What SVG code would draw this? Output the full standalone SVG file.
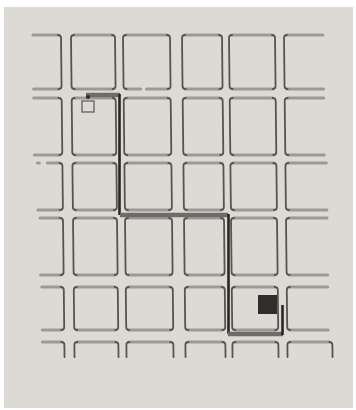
<svg xmlns="http://www.w3.org/2000/svg" width="356" height="410" viewBox="0 0 356 410">
<style>
.h{fill:none;stroke:#9c9a96;stroke-width:3;stroke-linecap:round}
.v{fill:none;stroke:#55544f;stroke-width:1.8;stroke-linecap:round}
.rh{fill:none;stroke:#6e6c69;stroke-width:4.5;stroke-linecap:butt}
.rv{fill:none;stroke:#262624;stroke-width:2.6}
</style>
<rect x="0" y="0" width="356" height="410" fill="#ffffff"/>
<rect x="4" y="7" width="349" height="401" fill="#dddad5"/>
<g id="grid" transform="matrix(1,0,0.011,1,-0.4,0)">
<g id="row0">
<path class="h" d="M33,35H58M33,89H58M74,35H112M74,89H112M126,35H167M126,89H140M146,89H167M185,35H219M185,89H219M232,35H272M232,89H272M287,35H323M287,89H323"/>
<path class="v" d="M58,35Q61,35 61,38V86Q61,89 58,89M74,35Q71,35 71,38V86Q71,89 74,89M112,35Q115,35 115,38V86Q115,89 112,89M126,35Q123,35 123,38V86Q123,89 126,89M167,35Q170,35 170,38V86Q170,89 167,89M185,35Q182,35 182,38V86Q182,89 185,89M219,35Q222,35 222,38V86Q222,89 219,89M232,35Q229,35 229,38V86Q229,89 232,89M272,35Q275,35 275,38V86Q275,89 272,89M287,35Q284,35 284,38V86Q284,89 287,89"/>
</g>
<g id="row1">
<path class="h" d="M33,98H58M33,155H58M74,98H112M74,155H112M126,98H167M126,155H167M185,98H219M185,155H219M232,98H272M232,155H272M287,98H323M287,155H323"/>
<path class="v" d="M58,98Q61,98 61,101V152Q61,155 58,155M74,98Q71,98 71,101V152Q71,155 74,155M112,98Q115,98 115,101V152Q115,155 112,155M126,98Q123,98 123,101V152Q123,155 126,155M167,98Q170,98 170,101V152Q170,155 167,155M185,98Q182,98 182,101V152Q182,155 185,155M219,98Q222,98 222,101V152Q222,155 219,155M232,98Q229,98 229,101V152Q229,155 232,155M272,98Q275,98 275,101V152Q275,155 272,155M287,98Q284,98 284,101V152Q284,155 287,155"/>
</g>
<g id="row2">
<path class="h" d="M36,163H38M46,163H58M36,210H58M74,163H112M74,210H112M126,163H167M126,210H167M185,163H219M185,210H219M232,163H272M232,210H272M287,163H325M287,210H325"/>
<path class="v" d="M58,163Q61,163 61,166V207Q61,210 58,210M74,163Q71,163 71,166V207Q71,210 74,210M112,163Q115,163 115,166V207Q115,210 112,210M126,163Q123,163 123,166V207Q123,210 126,210M167,163Q170,163 170,166V207Q170,210 167,210M185,163Q182,163 182,166V207Q182,210 185,210M219,163Q222,163 222,166V207Q222,210 219,210M232,163Q229,163 229,166V207Q229,210 232,210M272,163Q275,163 275,166V207Q275,210 272,210M287,163Q284,163 284,166V207Q284,210 287,210"/>
</g>
<g id="row3">
<path class="h" d="M38,218H58M38,275H58M74,218H112M74,275H112M126,218H167M126,275H167M185,218H219M185,275H219M232,218H272M232,275H272M287,218H325M287,275H325"/>
<path class="v" d="M58,218Q61,218 61,221V272Q61,275 58,275M74,218Q71,218 71,221V272Q71,275 74,275M112,218Q115,218 115,221V272Q115,275 112,275M126,218Q123,218 123,221V272Q123,275 126,275M167,218Q170,218 170,221V272Q170,275 167,275M185,218Q182,218 182,221V272Q182,275 185,275M219,218Q222,218 222,221V272Q222,275 219,275M232,218Q229,218 229,221V272Q229,275 232,275M272,218Q275,218 275,221V272Q275,275 272,275M287,218Q284,218 284,221V272Q284,275 287,275"/>
</g>
<g id="row4">
<path class="h" d="M39,287H58M39,330H58M74,287H112M74,330H112M126,287H167M126,330H167M185,287H219M185,330H219M232,287H272M232,330H272M287,287H325M287,330H325"/>
<path class="v" d="M58,287Q61,287 61,290V327Q61,330 58,330M74,287Q71,287 71,290V327Q71,330 74,330M112,287Q115,287 115,290V327Q115,330 112,330M126,287Q123,287 123,290V327Q123,330 126,330M167,287Q170,287 170,290V327Q170,330 167,330M185,287Q182,287 182,290V327Q182,330 185,330M219,287Q222,287 222,290V327Q222,330 219,330M232,287Q229,287 229,290V327Q229,330 232,330M272,287Q275,287 275,290V327Q275,330 272,330M287,287Q284,287 284,290V327Q284,330 287,330"/>
</g>
<g id="row5">
<path class="h" d="M39,342H58M74,342H112M126,342H167M185,342H219M232,342H272M287,342H326"/>
<path class="v" d="M58,342Q61,342 61,345V357M74,342Q71,342 71,345V357M112,342Q115,342 115,345V357M126,342Q123,342 123,345V357M167,342Q170,342 170,345V357M185,342Q182,342 182,345V357M219,342Q222,342 222,345V357M232,342Q229,342 229,345V357M272,342Q275,342 275,345V357M287,342Q284,342 284,345V357M326,342Q329,342 329,345V357"/>
</g>
</g>
<g id="route">
<path class="rh" d="M86,95H120"/>
<path class="rv" d="M119.5,94V215"/>
<path class="rh" d="M120,215H228"/>
<path class="rv" d="M228.5,214V334"/>
<path class="rh" d="M228,334H283"/>
<path class="rv" d="M282.5,335V305"/>
<circle cx="88" cy="97" r="2" fill="#2a2a28"/>
</g>
<g id="start">
<rect x="82" y="101" width="12" height="11" fill="none" stroke="#6a6866" stroke-width="1.4"/>
</g>
<g id="end">
<rect x="258" y="295" width="19" height="19" fill="#2e2e2c"/>
</g>
</svg>
